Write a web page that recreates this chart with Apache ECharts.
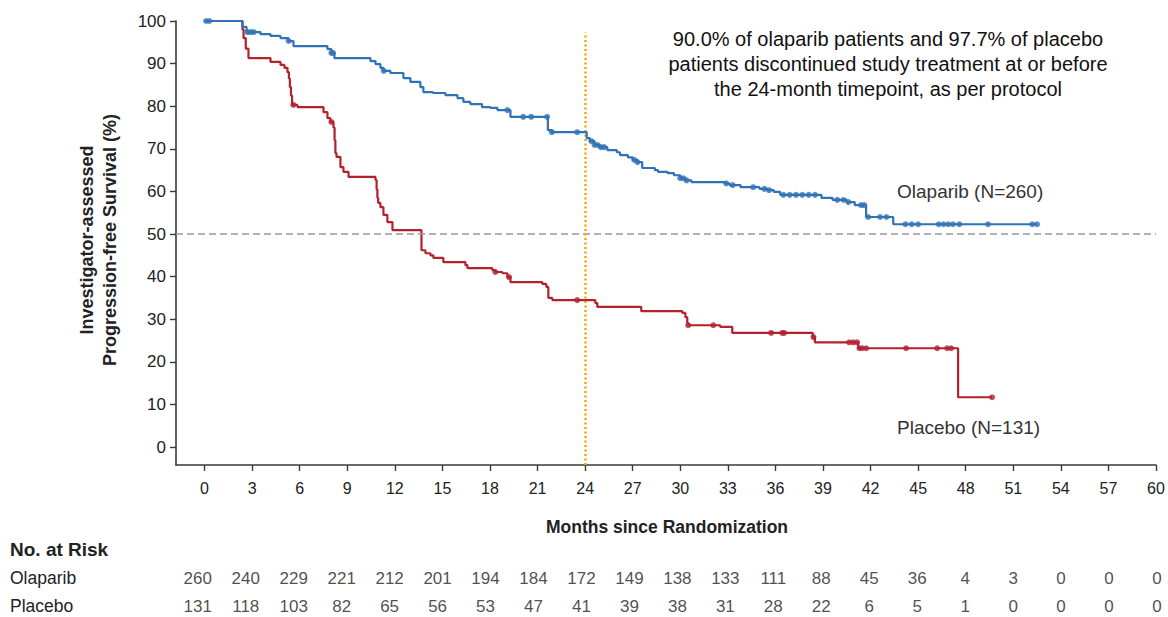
<!DOCTYPE html>
<html>
<head>
<meta charset="utf-8">
<script src="https://cdn.jsdelivr.net/npm/echarts@6/dist/echarts.min.js"></script>
<style>
html,body{margin:0;padding:0;background:#fff;}
#c{width:1168px;height:617px;}
</style>
</head>
<body>
<div id="c"></div>
<script>
// ---------- DATA ----------
const xTicks = [0,3,6,9,12,15,18,21,24,27,30,33,36,39,42,45,48,51,54,57,60];
const yTicks = [0,10,20,30,40,50,60,70,80,90,100];

// Kaplan-Meier steps: [month, survival % from this month on]
const olaparibSteps = [
  [0,100],[2.39,98.6],[2.65,97.4],[3.53,96.9],[4.16,96.5],[4.79,96.0],[5.29,95.3],[5.61,94.1],
  [7.75,93.4],[8.0,92.5],[8.19,91.3],[10.46,90.6],[10.78,89.9],[11.09,89.0],[11.28,88.3],[11.72,87.8],
  [12.54,86.6],[12.98,85.7],[13.61,84.5],[13.80,83.3],[14.4,83.1],[15.19,82.6],[15.95,81.9],[16.32,81.0],
  [16.76,80.5],[17.5,79.8],[18.02,79.6],[18.47,79.1],[19.29,77.5],[21.65,74.4],[21.9,73.9],[24.1,72.5],
  [24.3,71.8],[24.6,70.9],[24.9,70.4],[25.4,69.7],[26.0,69.2],[26.2,68.5],[26.7,68.0],[27.0,67.4],
  [27.3,66.9],[27.6,65.5],[28.4,65.0],[28.6,64.6],[29.2,64.3],[29.6,63.8],[30.0,63.1],[30.3,62.6],
  [30.7,62.2],[32.8,61.9],[33.1,61.5],[33.8,61.0],[35.0,60.6],[35.5,60.3],[35.9,59.9],[36.3,59.2],
  [38.9,58.5],[39.6,58.0],[40.5,57.5],[41.0,56.8],[41.72,54.0],[43.43,52.3],[52.5,52.3]
];
const placeboSteps = [
  [0,100],[2.39,98],[2.46,96],[2.6,93.5],[2.77,91.3],[4.16,90.4],[4.79,89.7],[5.04,89.0],[5.23,88.0],
  [5.32,86.5],[5.38,84.5],[5.45,82.5],[5.52,80.3],[5.86,79.8],[7.5,78.6],[7.75,77.2],[7.94,76.3],
  [8.13,75.0],[8.2,72.0],[8.25,69.0],[8.32,68.1],[8.57,65.7],[8.76,64.6],[9.08,63.4],[10.78,62.7],
  [10.85,60.5],[10.9,58.5],[10.95,57.3],[11.09,56.3],[11.28,54.5],[11.53,52.8],[11.85,50.9],[13.68,46.2],
  [13.93,45.5],[14.24,45.0],[14.43,44.4],[15.06,43.4],[16.45,42.7],[16.58,42.0],[18.15,41.5],[18.34,41.1],
  [18.78,40.8],[19.1,39.9],[19.29,38.7],[21.3,38.3],[21.55,37.6],[21.68,35.0],[21.93,34.5],[24.64,33.8],
  [24.77,32.9],[27.54,31.9],[30.13,31.5],[30.32,30.5],[30.44,29.1],[30.5,28.6],[32.52,28.2],[33.28,26.8],
  [38.36,25.8],[38.49,24.6],[41.22,23.2],[47.52,11.7],[49.66,11.7]
];

// censoring times (months)
const olaparibCensor = [0.1,0.3,2.7,2.9,3.1,5.3,8.0,8.1,11.3,19.1,20.1,20.6,21.6,21.9,23.5,24.4,24.6,24.8,
  25.0,25.2,27.1,27.3,30.0,30.2,30.4,32.9,33.3,34.6,35.3,35.6,36.5,36.9,37.3,37.7,38.1,38.5,39.9,40.3,40.6,
  41.4,41.6,41.85,42.6,43.0,44.2,44.6,45.0,46.3,46.6,46.9,47.2,47.6,49.4,52.2,52.5];
const placeboCensor = [5.6,8.0,18.34,19.2,23.5,30.5,32.08,35.73,36.43,36.55,38.4,40.65,40.9,41.15,41.3,
  41.47,41.72,44.24,46.2,46.83,47.08,49.66];

// numbers at risk
const olaparibRisk = [260,240,229,221,212,201,194,184,172,149,138,133,111,88,45,36,4,3,0,0,0];
const placeboRisk  = [131,118,103,82,65,56,53,47,41,39,38,31,28,22,6,5,1,0,0,0,0];

const refLine = 50;
const timepoint = 24;

// ---------- CHART ----------
const BLUE = '#2f72b5', RED = '#b3212e';
const FONT = '"Liberation Sans", Arial, Helvetica, sans-serif';
function sAt(steps, t){ let v = steps[0][1]; for (const p of steps){ if (p[0] <= t) v = p[1]; else break; } return v; }

const chart = echarts.init(document.getElementById('c'), null, {renderer:'svg'});

const xMin = -1.8, yMin = -4.2;
const riskGrid = (top) => ({left:169, right:11, top:top, height:16});

chart.setOption({
  animation:false,
  backgroundColor:'#fff',
  textStyle:{fontFamily:FONT},
  grid:[{left:176, right:12, top:21, bottom:152}, riskGrid(570), riskGrid(598)],
  xAxis:[
    {type:'value', gridIndex:0, min:xMin, max:60,
     axisLine:{show:true, onZero:false, lineStyle:{color:'#3a3a3a', width:1.6}},
     axisTick:{show:true, length:6, customValues:xTicks, lineStyle:{color:'#3a3a3a', width:1.4}},
     axisLabel:{customValues:xTicks, fontSize:16, color:'#222', margin:15, fontFamily:FONT},
     splitLine:{show:false}},
    {type:'value', gridIndex:1, min:xMin, max:60, show:false},
    {type:'value', gridIndex:2, min:xMin, max:60, show:false}
  ],
  yAxis:[
    {type:'value', gridIndex:0, min:yMin, max:100,
     axisLine:{show:true, onZero:false, lineStyle:{color:'#3a3a3a', width:1.6}},
     axisTick:{show:true, length:6, customValues:yTicks, lineStyle:{color:'#3a3a3a', width:1.4}},
     axisLabel:{customValues:yTicks, fontSize:17, color:'#222', margin:10, fontFamily:FONT},
     splitLine:{show:false}},
    {type:'value', gridIndex:1, min:0, max:1, show:false},
    {type:'value', gridIndex:2, min:0, max:1, show:false}
  ],
  series:[
    {name:'Placebo', type:'line', step:'end', data:placeboSteps, showSymbol:false,
     lineStyle:{color:RED, width:2.2}, itemStyle:{color:RED}, z:3},
    {name:'Placebo censored', type:'scatter', data:placeboCensor.map(t=>[t, sAt(placeboSteps,t)]),
     symbolSize:6, itemStyle:{color:RED}, z:4},
    {name:'Olaparib', type:'line', step:'end', data:olaparibSteps, showSymbol:false,
     lineStyle:{color:BLUE, width:2.2}, itemStyle:{color:BLUE}, z:5,
     markLine:{silent:true, symbol:'none', label:{show:false}, animation:false,
       data:[
         {yAxis:refLine, lineStyle:{color:'#9a9a9a', type:[7,4], width:1.5}},
         [{coord:[timepoint, yMin], lineStyle:{color:'#f4a900', type:[2,2.5], width:2.5}},
          {coord:[timepoint, 97.3]}]
       ]}},
    {name:'Olaparib censored', type:'scatter', data:olaparibCensor.map(t=>[t, sAt(olaparibSteps,t)]),
     symbolSize:6, itemStyle:{color:BLUE}, z:6},
    {name:'Olaparib at risk', type:'scatter', xAxisIndex:1, yAxisIndex:1,
     data:olaparibRisk.map((n,i)=>[xTicks[i], 0.5, n]), symbolSize:1, itemStyle:{color:'rgba(0,0,0,0)'},
     label:{show:true, position:'inside', formatter:p=>String(p.value[2]), fontSize:17, color:'#222', fontFamily:FONT}},
    {name:'Placebo at risk', type:'scatter', xAxisIndex:2, yAxisIndex:2,
     data:placeboRisk.map((n,i)=>[xTicks[i], 0.5, n]), symbolSize:1, itemStyle:{color:'rgba(0,0,0,0)'},
     label:{show:true, position:'inside', formatter:p=>String(p.value[2]), fontSize:17, color:'#222', fontFamily:FONT}}
  ],
  graphic:[
    {type:'text', x:98, y:240, rotation:Math.PI/2,
     style:{text:'Investigator-assessed\nProgression-free Survival (%)', font:'bold 18px '+FONT,
       fill:'#222', align:'center', verticalAlign:'middle', lineHeight:23}},
    {type:'text', x:667, y:527,
     style:{text:'Months since Randomization', font:'bold 17.5px '+FONT, fill:'#222', align:'center', verticalAlign:'middle'}},
    {type:'text', x:10, y:549,
     style:{text:'No. at Risk', font:'bold 19px '+FONT, fill:'#222', align:'left', verticalAlign:'middle'}},
    {type:'text', x:10, y:578,
     style:{text:'Olaparib', font:'17.5px '+FONT, fill:'#222', align:'left', verticalAlign:'middle'}},
    {type:'text', x:10, y:606,
     style:{text:'Placebo', font:'17.5px '+FONT, fill:'#222', align:'left', verticalAlign:'middle'}},
    {type:'text', x:897, y:191,
     style:{text:'Olaparib (N=260)', font:'19px '+FONT, fill:'#333', align:'left', verticalAlign:'middle'}},
    {type:'text', x:897, y:427,
     style:{text:'Placebo (N=131)', font:'19px '+FONT, fill:'#333', align:'left', verticalAlign:'middle'}},
    {type:'text', x:888, y:64,
     style:{text:'90.0% of olaparib patients and 97.7% of placebo\npatients discontinued study treatment at or before\nthe 24-month timepoint, as per protocol',
       font:'20px '+FONT, fill:'#111', align:'center', verticalAlign:'middle', lineHeight:25}}
  ]
});
</script>
</body>
</html>
